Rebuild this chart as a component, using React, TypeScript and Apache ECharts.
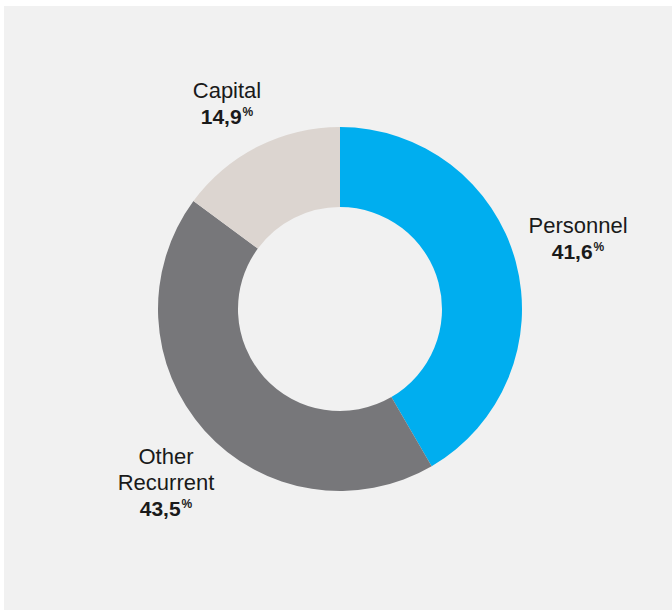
import React, { useEffect, useRef } from "react";
import * as echarts from "echarts";

const categories = ["Personnel", "Other\nRecurrent", "Capital"];
const shares = [41.6, 43.5, 14.9];
const colors = ["#00aeef", "#77777a", "#dcd5d0"];
const labelAnchors = [
  [578, 238],
  [166, 482],
  [227, 103],
];

export default function App() {
  const ref = useRef<HTMLDivElement>(null);
  useEffect(() => {
    const chart = echarts.init(ref.current!, null, { renderer: "svg" });
    chart.setOption({
      animation: false,
      backgroundColor: "#f1f1f1",
      graphic: [
        { type: "rect", shape: { x: 0, y: 0, width: 4, height: 610 }, style: { fill: "#ffffff" }, silent: true },
        { type: "rect", shape: { x: 0, y: 0, width: 672, height: 6 }, style: { fill: "#ffffff" }, silent: true },
      ],
      series: [
        {
          type: "pie",
          center: [340, 309],
          radius: [102, 182],
          startAngle: 90,
          clockwise: true,
          avoidLabelOverlap: false,
          emphasis: { disabled: true },
          data: categories.map((name, i) => ({
            name,
            value: shares[i],
            itemStyle: { color: colors[i] },
          })),
          label: {
            show: true,
            position: "outside",
            color: "#1a1a1a",
            fontFamily: "Liberation Sans, Arial, sans-serif",
            formatter: (p: any) => {
              const lines = String(p.name)
                .split("\n")
                .map((s: string) => `{t|${s}}`)
                .join("\n");
              const v = Number(p.value).toFixed(1).replace(".", ",");
              return `${lines}\n{v|${v}}{p|%}`;
            },
            rich: {
              t: { fontSize: 22, lineHeight: 26, color: "#1a1a1a", fontFamily: "Liberation Sans, Arial, sans-serif" },
              v: { fontSize: 21, fontWeight: "bold", lineHeight: 26, color: "#1a1a1a", fontFamily: "Liberation Sans, Arial, sans-serif" },
              p: { fontSize: 12, fontWeight: "bold", lineHeight: 26, verticalAlign: "top", padding: [3, 0, 0, 1], color: "#1a1a1a", fontFamily: "Liberation Sans, Arial, sans-serif" },
            },
          },
          labelLine: { show: false },
          labelLayout: (p: any) => ({
            x: labelAnchors[p.dataIndex][0],
            y: labelAnchors[p.dataIndex][1],
            align: "center",
            verticalAlign: "middle",
          }),
        },
      ],
    });
    return () => chart.dispose();
  }, []);
  return (
    <div
      ref={ref}
      style={{ position: "fixed", left: 0, top: 0, width: 672, height: 610 }}
    />
  );
}
